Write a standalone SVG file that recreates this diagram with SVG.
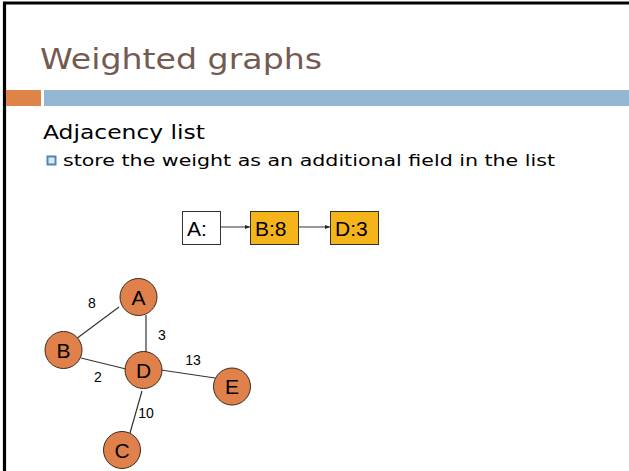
<svg xmlns="http://www.w3.org/2000/svg" width="629" height="471" viewBox="0 0 629 471">
  <style>
    .title { font-family: "DejaVu Sans", "Liberation Sans", sans-serif; font-size: 29px; fill: #735b51; }
    .body { font-family: "DejaVu Sans", "Liberation Sans", sans-serif; fill: #000; }
    .node circle { fill: #e0804a; stroke: #3a2a20; stroke-width: 1; }
    .node text { font-family: "Liberation Sans", Arial, sans-serif; font-size: 21px; text-anchor: middle; fill: #000; }
    .edge { stroke: #333; stroke-width: 1.2; }
    .wt { font-family: "Liberation Sans", Arial, sans-serif; font-size: 14px; text-anchor: middle; fill: #000; }
    .cell { stroke: #333; stroke-width: 1; }
    .cell-text { font-family: "Liberation Sans", Arial, sans-serif; font-size: 21px; fill: #000; }
  </style>
  <defs>
    <marker id="arrow" viewBox="0 0 10 10" refX="10" refY="5" markerWidth="5" markerHeight="5" orient="auto">
      <path d="M0,1 L10,5 L0,9 z" fill="#222"/>
    </marker>
  </defs>

  <rect width="629" height="471" fill="#fff"/>
  <!-- slide frame -->
  <path d="M4.5,471 V3 H629" fill="none" stroke="#000" stroke-width="3.2"/>

  <!-- title -->
  <text class="title" x="40" y="69" textLength="282" lengthAdjust="spacingAndGlyphs">Weighted graphs</text>
  <rect x="6" y="90" width="35" height="16" fill="#df8448"/>
  <rect x="44" y="90" width="585" height="16" fill="#94b6d2"/>

  <!-- body text -->
  <text class="body" x="43" y="139" font-size="19" textLength="162" lengthAdjust="spacingAndGlyphs">Adjacency list</text>
  <rect x="47.5" y="156.5" width="8" height="8" fill="#dbe8f2" stroke="#4f86b6" stroke-width="2"/>
  <text class="body" x="63" y="166" font-size="16.5" textLength="492" lengthAdjust="spacingAndGlyphs">store the weight as an additional field in the list</text>

  <!-- adjacency list row -->
  <g id="list-A">
    <rect class="cell" x="182.5" y="211.5" width="38" height="33" fill="#fff"/>
    <text class="cell-text" x="187" y="236">A:</text>
  </g>
  <g id="list-B8">
    <rect class="cell" x="250.5" y="211.5" width="48" height="33" fill="#f6b41b"/>
    <text class="cell-text" x="255" y="236">B:8</text>
  </g>
  <g id="list-D3">
    <rect class="cell" x="330.5" y="211.5" width="48" height="33" fill="#f6b41b"/>
    <text class="cell-text" x="335" y="236">D:3</text>
  </g>
  <g id="list-links" stroke="#333" stroke-width="1">
    <line x1="220.5" y1="227" x2="250" y2="227" marker-end="url(#arrow)"/>
    <line x1="298.5" y1="227" x2="330" y2="227" marker-end="url(#arrow)"/>
  </g>

  <!-- graph edges -->
  <g id="edges">
    <line class="edge" x1="76" y1="339" x2="119" y2="307"/>
    <line class="edge" x1="146" y1="315" x2="146" y2="353"/>
    <line class="edge" x1="81" y1="358" x2="126" y2="369"/>
    <line class="edge" x1="161" y1="370" x2="215" y2="378"/>
    <line class="edge" x1="142" y1="391" x2="130" y2="433"/>
    <text class="wt" x="92" y="308">8</text>
    <text class="wt" x="162" y="340">3</text>
    <text class="wt" x="98" y="382">2</text>
    <text class="wt" x="193" y="365">13</text>
    <text class="wt" x="146" y="418">10</text>
  </g>

  <!-- graph nodes -->
  <g id="node-A" class="node"><circle cx="138.5" cy="297" r="18.5"/><text x="138.5" y="304.5">A</text></g>
  <g id="node-B" class="node"><circle cx="63.5" cy="350" r="18.5"/><text x="63.5" y="357.5">B</text></g>
  <g id="node-D" class="node"><circle cx="143.5" cy="370" r="18.5"/><text x="143.5" y="377.5">D</text></g>
  <g id="node-E" class="node"><circle cx="232" cy="386.5" r="18.5"/><text x="232" y="394">E</text></g>
  <g id="node-C" class="node"><circle cx="122" cy="450" r="18.5"/><text x="122" y="457.5">C</text></g>
</svg>
